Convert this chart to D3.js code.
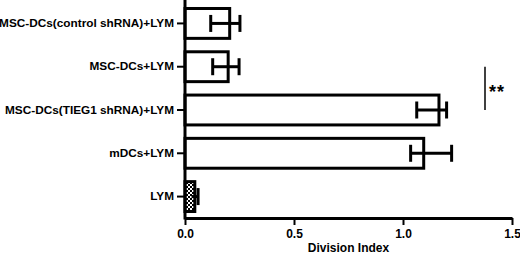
<!DOCTYPE html>
<html>
<head>
<meta charset="utf-8">
<script src="https://cdn.jsdelivr.net/npm/d3@7"></script>
<style>
  body { margin: 0; background: #fff; }
  svg text { font-family: "Liberation Sans", Arial, sans-serif; font-weight: bold; fill: #000; }
</style>
</head>
<body>
<div id="chart"></div>
<script>
// 資料
const groups = ["MSC-DCs(control shRNA)+LYM", "MSC-DCs+LYM", "MSC-DCs(TIEG1 shRNA)+LYM", "mDCs+LYM", "LYM"];
const means = [0.205, 0.198, 1.165, 1.095, 0.045];
const errLow = [0.118, 0.127, 1.063, 1.035, 0.03];
const errHigh = [0.252, 0.248, 1.2, 1.223, 0.06];
const xTicks = [0.0, 0.5, 1.0, 1.5];

const width = 520, height = 260;
const margin = {top: 2, right: 8, bottom: 42, left: 185};

const svg = d3.select("#chart").append("svg")
    .attr("width", width)
    .attr("height", height);

// 棋盤格 pattern (LYM)
const defs = svg.append("defs");
const pat = defs.append("pattern")
    .attr("id", "checker")
    .attr("width", 4).attr("height", 4)
    .attr("patternUnits", "userSpaceOnUse");
pat.append("rect").attr("width", 4).attr("height", 4).attr("fill", "#fff");
pat.append("rect").attr("width", 2).attr("height", 2).attr("fill", "#000");
pat.append("rect").attr("x", 2).attr("y", 2).attr("width", 2).attr("height", 2).attr("fill", "#000");

// 比例尺
const x = d3.scaleLinear()
    .domain([0, 1.5])
    .range([margin.left, width - margin.right]);

const y = d3.scaleBand()
    .domain(groups)
    .range([margin.top, height - margin.bottom])
    .paddingInner(0.31)
    .paddingOuter(0.15);

// 繪製 bars
svg.selectAll(".bar")
    .data(groups)
    .enter()
    .append("rect")
    .attr("class", "bar")
    .attr("x", x(0))
    .attr("y", d => y(d))
    .attr("width", (d, i) => x(means[i]) - x(0))
    .attr("height", y.bandwidth())
    .attr("fill", (d, i) => d === "LYM" ? "url(#checker)" : "#fff")
    .attr("stroke", "#000")
    .attr("stroke-width", 3);

// error bars
const eb = svg.selectAll(".err")
    .data(groups)
    .enter()
    .append("g")
    .attr("class", "err")
    .attr("stroke", "#000")
    .attr("stroke-width", 3);

eb.append("line")
    .attr("x1", (d, i) => x(errLow[i]))
    .attr("x2", (d, i) => x(errHigh[i]))
    .attr("y1", d => y(d) + y.bandwidth() / 2)
    .attr("y2", d => y(d) + y.bandwidth() / 2);

const capH = 8.5;
eb.append("line")
    .attr("x1", (d, i) => x(errLow[i]))
    .attr("x2", (d, i) => x(errLow[i]))
    .attr("y1", d => y(d) + y.bandwidth() / 2 - capH)
    .attr("y2", d => y(d) + y.bandwidth() / 2 + capH)
    .attr("display", (d, i) => groups[i] === "LYM" ? "none" : null);

eb.append("line")
    .attr("x1", (d, i) => x(errHigh[i]))
    .attr("x2", (d, i) => x(errHigh[i]))
    .attr("y1", d => y(d) + y.bandwidth() / 2 - capH)
    .attr("y2", d => y(d) + y.bandwidth() / 2 + capH);

// y 軸
const yAxis = svg.append("g")
    .attr("transform", `translate(${x(0)},0)`)
    .call(d3.axisLeft(y).tickSize(8).tickPadding(3).tickSizeOuter(0));
yAxis.select(".domain").remove();
yAxis.append("line")
    .attr("x1", 0).attr("x2", 0)
    .attr("y1", 0).attr("y2", height - margin.bottom + 1.5)
    .attr("stroke", "#000").attr("stroke-width", 3);
yAxis.selectAll(".tick line").attr("stroke-width", 2);
yAxis.selectAll(".tick text").style("font-size", "11.8px");

// x 軸
const xAxis = svg.append("g")
    .attr("transform", `translate(0,${height - margin.bottom})`)
    .call(d3.axisBottom(x).tickValues(xTicks).tickFormat(d3.format(".1f")).tickSize(7).tickPadding(4).tickSizeOuter(0));
xAxis.select(".domain").attr("stroke-width", 3);
xAxis.selectAll(".tick line").attr("stroke-width", 2);
xAxis.selectAll(".tick text").style("font-size", "12px");

// x 軸標題
svg.append("text")
    .attr("x", (x(0) + x(1.5)) / 2)
    .attr("y", 252)
    .attr("text-anchor", "middle")
    .style("font-size", "12px")
    .text("Division Index");

// 顯著性標記
const sigX = 485;
svg.append("line")
    .attr("x1", sigX).attr("x2", sigX)
    .attr("y1", y(groups[1]) + y.bandwidth() / 2)
    .attr("y2", y(groups[2]) + y.bandwidth() / 2)
    .attr("stroke", "#000").attr("stroke-width", 1.5);
svg.append("text")
    .attr("x", sigX + 4)
    .attr("y", (y(groups[1]) + y(groups[2])) / 2 + y.bandwidth() / 2 + 10)
    .style("font-size", "18px")
    .style("letter-spacing", "1px")
    .text("**");
</script>
</body>
</html>
